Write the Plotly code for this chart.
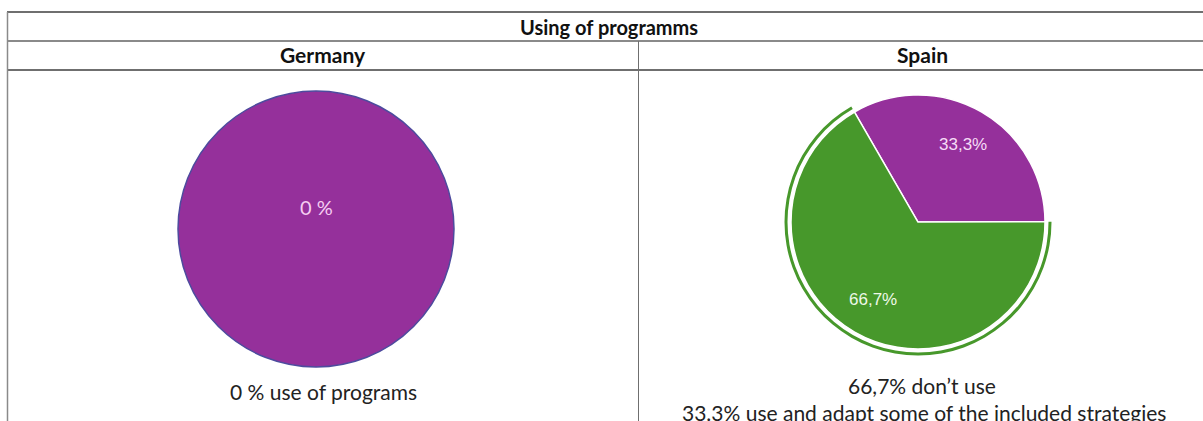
import math
import plotly.graph_objects as go

# ---- data ----
title_text = "Using of programms"
countries = ["Germany", "Spain"]
germany_labels = ["No use of programs"]
germany_values = [100]
germany_text = ["0 %"]
germany_caption = ["0 % use of programs"]
spain_labels = ["use and adapt some of the included strategies", "don't use"]
spain_values = [33.3, 66.7]
spain_text = ["33,3%", "66,7%"]
spain_caption = ["66,7% don’t use", "33.3% use and adapt some of the included strategies"]

W, H = 1203, 421
def fx(x):
    return x / W
def fy(y):
    return 1 - y / H

PURPLE = "#95309b"
GREEN = "#47982b"
TXT = "#222222"
FONT = "Lato"

fig = go.Figure()

# Germany pie
gcx, gcy, gr = 316, 229, 138
fig.add_trace(go.Pie(
    labels=germany_labels, values=germany_values, sort=False,
    domain=dict(x=[fx(gcx - gr), fx(gcx + gr)], y=[fy(gcy + gr), fy(gcy - gr)]),
    marker=dict(colors=[PURPLE], line=dict(color="#4d4b9e", width=1.5)),
    textinfo="none", hoverinfo="label+value", showlegend=False,
))

# Spain pie
scx, scy, sr = 918, 222, 127
rot = -30
fig.add_trace(go.Pie(
    labels=spain_labels, values=spain_values, sort=False, direction="clockwise",
    rotation=rot,
    domain=dict(x=[fx(scx - sr), fx(scx + sr)], y=[fy(scy + sr), fy(scy - sr)]),
    marker=dict(colors=[PURPLE, GREEN], line=dict(color="white", width=1.5)),
    textinfo="none",
    hoverinfo="label+percent", showlegend=False,
))

# highlight ring around the green slice
rr_out, rr_in = 133.5, 130.5
fig.add_trace(go.Pie(
    labels=spain_labels, values=spain_values, sort=False, direction="clockwise",
    rotation=rot, hole=rr_in / rr_out,
    domain=dict(x=[fx(scx - rr_out), fx(scx + rr_out)], y=[fy(scy + rr_out), fy(scy - rr_out)]),
    marker=dict(colors=["rgba(0,0,0,0)", GREEN], line=dict(width=0)),
    textinfo="none", hoverinfo="skip", showlegend=False,
))

line = dict(color="#6f6f6f", width=2)
shapes = [
    dict(type="line", xref="paper", yref="paper", x0=fx(7), x1=1, y0=fy(12), y1=fy(12), line=line),
    dict(type="line", xref="paper", yref="paper", x0=fx(7), x1=1, y0=fy(41), y1=fy(41), line=dict(color="#8a8a8a", width=2)),
    dict(type="line", xref="paper", yref="paper", x0=fx(7), x1=1, y0=fy(70), y1=fy(70), line=line),
    dict(type="line", xref="paper", yref="paper", x0=fx(7.5), x1=fx(7.5), y0=fy(12), y1=0, line=dict(color="#8a8a8a", width=1.5)),
    dict(type="line", xref="paper", yref="paper", x0=fx(638.5), x1=fx(638.5), y0=fy(41), y1=0, line=dict(color="#6f6f6f", width=1)),
]

def A(text, x, y, size, color, family=FONT):
    return dict(text=text, x=fx(x), y=fy(y), xref="paper", yref="paper",
                xanchor="center", yanchor="middle", showarrow=False,
                font=dict(family=family, size=size, color=color))

ann = [
    A("<b>" + title_text + "</b>", 609, 27, 20, "#111"),
    A("<b>" + countries[0] + "</b>", 323, 55, 21, "#111"),
    A("<b>" + countries[1] + "</b>", 922, 55, 21, "#111"),
    A(germany_text[0], gcx, 207, 20, "#f5cdf2"),
    A(germany_caption[0], 323, 391, 21, TXT),
    A(spain_caption[0], 922, 385, 21, TXT),
    A(spain_caption[1], 924, 412, 21, TXT),
]

# slice labels placed along each slice's mid-angle
total = sum(spain_values)
start = rot
label_colors = ["#f6dcf6", "#eef8e8"]
for v, t, c in zip(spain_values, spain_text, label_colors):
    mid = start + 0.5 * v / total * 360
    start += v / total * 360
    a = math.radians(mid)
    lx = scx + 0.705 * sr * math.sin(a)
    ly = scy - 0.705 * sr * math.cos(a)
    ann.append(A(t, lx, ly, 17, c, family="Liberation Sans"))

fig.update_layout(
    width=W, height=H, margin=dict(l=0, r=0, t=0, b=0),
    paper_bgcolor="white", plot_bgcolor="white",
    shapes=shapes, annotations=ann, showlegend=False,
)

fig.write_html("out.html")
